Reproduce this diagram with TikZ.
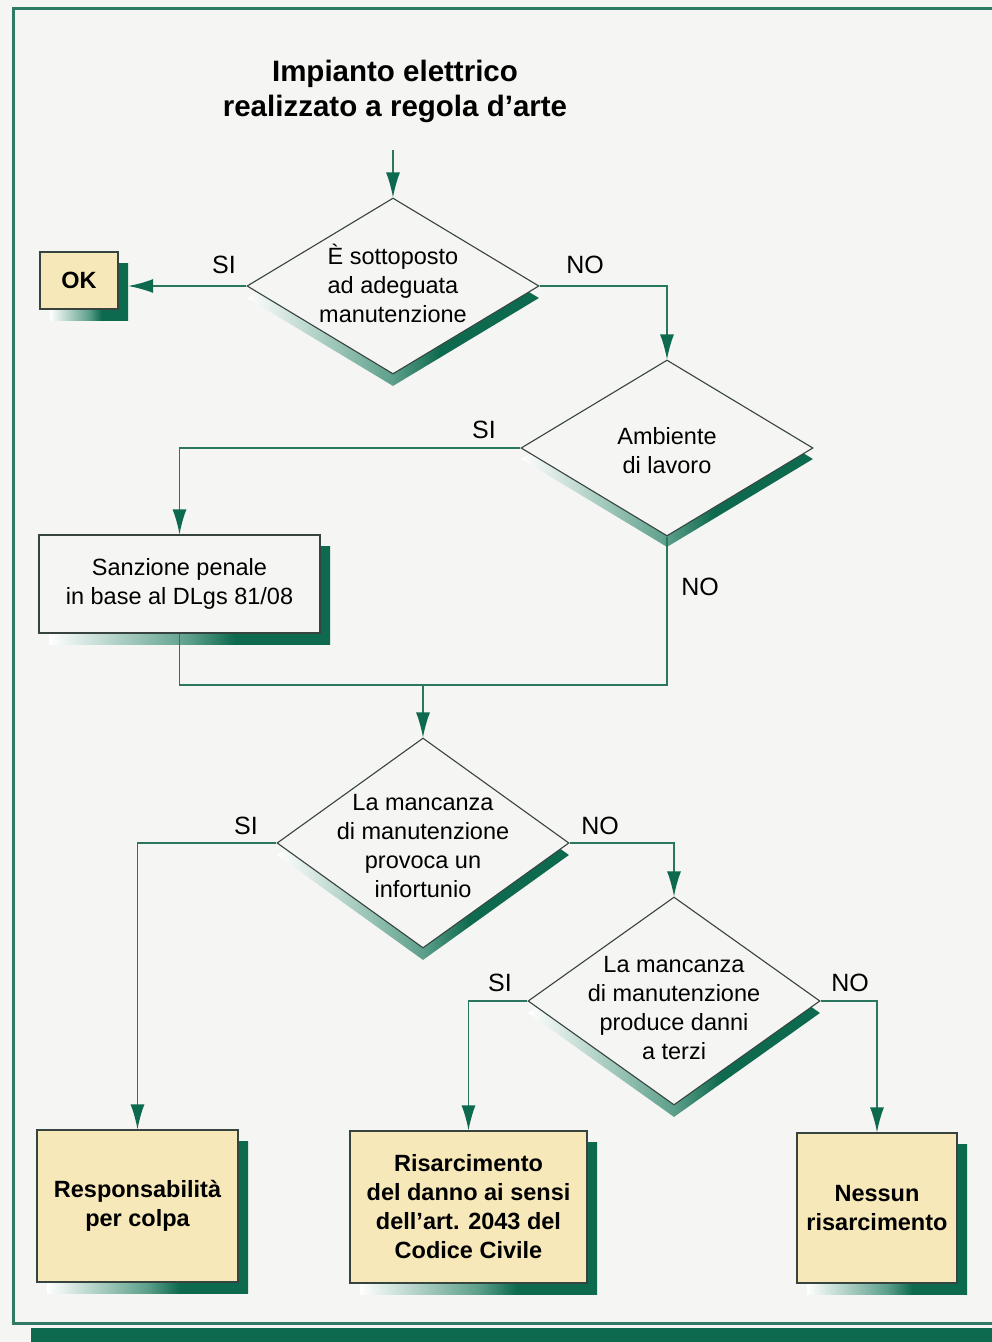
\documentclass[tikz,border=0pt]{standalone}
\usepackage{fontspec}
\setmainfont{Liberation Sans}
\usetikzlibrary{shapes.geometric,arrows.meta}
\definecolor{dkgreen}{HTML}{0E6A4E}
\definecolor{lgreen}{HTML}{2A765F}
\definecolor{midteal}{HTML}{5C9F8A}
\definecolor{boxy}{HTML}{F6E8B8}
\definecolor{outl}{HTML}{36433F}
\definecolor{bgc}{HTML}{F5F5F3}
\definecolor{framec}{HTML}{2E7A62}
\pgfdeclarehorizontalshading{shd}{100bp}{color(0bp)=(white); color(25bp)=(white); color(50bp)=(midteal); color(58bp)=(dkgreen); color(100bp)=(dkgreen)}
\begin{document}
\begin{tikzpicture}[x=1pt,y=-1pt,
  dia/.style={diamond, draw=outl, line width=1.1pt, fill=bgc, minimum width=292pt, inner sep=0pt},
  dsh/.style={diamond, shade, shading=shd, minimum width=292pt, inner sep=0pt},
  bx/.style={rectangle, draw=outl, line width=1.2pt, align=center, inner sep=0pt},
  bsh/.style={rectangle, shade, shading=shd, inner sep=0pt},
  dtext/.style={align=center, font=\fontsize{23.5}{29}\selectfont, inner sep=0pt},
  btext/.style={font=\fontsize{23.5}{29}\selectfont\bfseries},
  lbl/.style={font=\fontsize{25}{30}\selectfont, inner sep=0pt},
  conn/.style={draw=lgreen, line width=1.5pt},
  arr/.style={conn, -{Latex[length=25pt,width=14pt,color=dkgreen]}}
]
\useasboundingbox (0,0) rectangle (992,1342);
\fill[bgc] (0,0) rectangle (992,1342);
% frame
\draw[framec, line width=3pt] (13,8) rectangle (1010,1323);
\fill[dkgreen] (31,1328) rectangle (992,1342);

% title
\node[font=\fontsize{29.5}{35}\selectfont\bfseries, align=center] (title) at (395,91) {Impianto elettrico\\realizzato a regola d’arte};
\coordinate (tstart) at (393,150);

% shadows of diamonds
\node[dsh, minimum height=176pt] (d1s) at (393,298) {};
\node[dsh, minimum height=176pt] (d2s) at (667,459) {};
\node[dsh, minimum height=210pt] (d3s) at (423,855) {};
\node[dsh, minimum height=208pt] (d4s) at (674,1013) {};

% shadows of boxes
\node[bsh, minimum width=78pt, minimum height=57pt] (oks) at (89,291.5) {};
\node[bsh, minimum width=281pt, minimum height=98pt] (sanzs) at (189.5,595) {};
\node[bsh, minimum width=201pt, minimum height=152pt] (resps) at (147.5,1217) {};
\node[bsh, minimum width=237pt, minimum height=152pt] (riscs) at (478.5,1218) {};
\node[bsh, minimum width=160pt, minimum height=150pt] (nesss) at (887,1219) {};

% diamonds
\node[dia, minimum height=176pt] (d1) at (393,286) {};
\node[dia, minimum height=176pt] (d2) at (667,448) {};
\node[dia, minimum height=210pt] (d3) at (423,843) {};
\node[dia, minimum height=208pt] (d4) at (674,1001) {};

\node[dtext] (t1) at (393,283) {È sottoposto\\ad adeguata\\manutenzione};
\node[dtext] (t2) at (667,451) {Ambiente\\di lavoro};
\node[dtext] (t3) at (423,846) {La mancanza\\di manutenzione\\provoca un\\infortunio};
\node[dtext] (t4) at (674,1008) {La mancanza\\di manutenzione\\produce danni\\a terzi};

% boxes
\node[bx, fill=boxy, minimum width=78pt, minimum height=57pt, btext] (ok) at (79,280.5) {OK};
\node[bx, fill=bgc, minimum width=281pt, minimum height=98pt, font=\fontsize{23.5}{29}\selectfont] (sanz) at (179.5,584) {Sanzione penale\\in base al DLgs 81/08};
\node[bx, fill=boxy, minimum width=201pt, minimum height=152pt, btext] (resp) at (137.5,1206) {Responsabilità\\per colpa};
\node[bx, fill=boxy, minimum width=237pt, minimum height=152pt, btext] (risc) at (468.5,1207) {Risarcimento\\del danno ai sensi\\dell’art. 2043 del\\Codice Civile};
\node[bx, fill=boxy, minimum width=160pt, minimum height=150pt, btext] (ness) at (877,1208) {Nessun\\risarcimento};

% connectors
\draw[arr] (tstart) -- (d1.north);
\draw[arr] (d1.west) -- (d1.west -| oks.east);
\draw[arr] (d1.east) -| (d2.north);
\draw[arr] (d2.west) -| (sanz.north);
\coordinate (merge) at (423,685);
\draw[conn] (d2.south) |- (sanz.south |- merge) -- (sanz.south);
\draw[arr] (merge) -- (d3.north);
\draw[arr] (d3.west) -| (resp.north);
\draw[arr] (d3.east) -| (d4.north);
\draw[arr] (d4.west) -| (risc.north);
\draw[arr] (d4.east) -| (ness.north);

% labels
\node[lbl] (l1) at (224,265) {SI};
\node[lbl] (l2) at (585,265) {NO};
\node[lbl] (l3) at (484,430) {SI};
\node[lbl] (l4) at (700,587) {NO};
\node[lbl] (l5) at (246,826) {SI};
\node[lbl] (l6) at (600,826) {NO};
\node[lbl] (l7) at (500,983) {SI};
\node[lbl] (l8) at (850,983) {NO};
\end{tikzpicture}
\end{document}
